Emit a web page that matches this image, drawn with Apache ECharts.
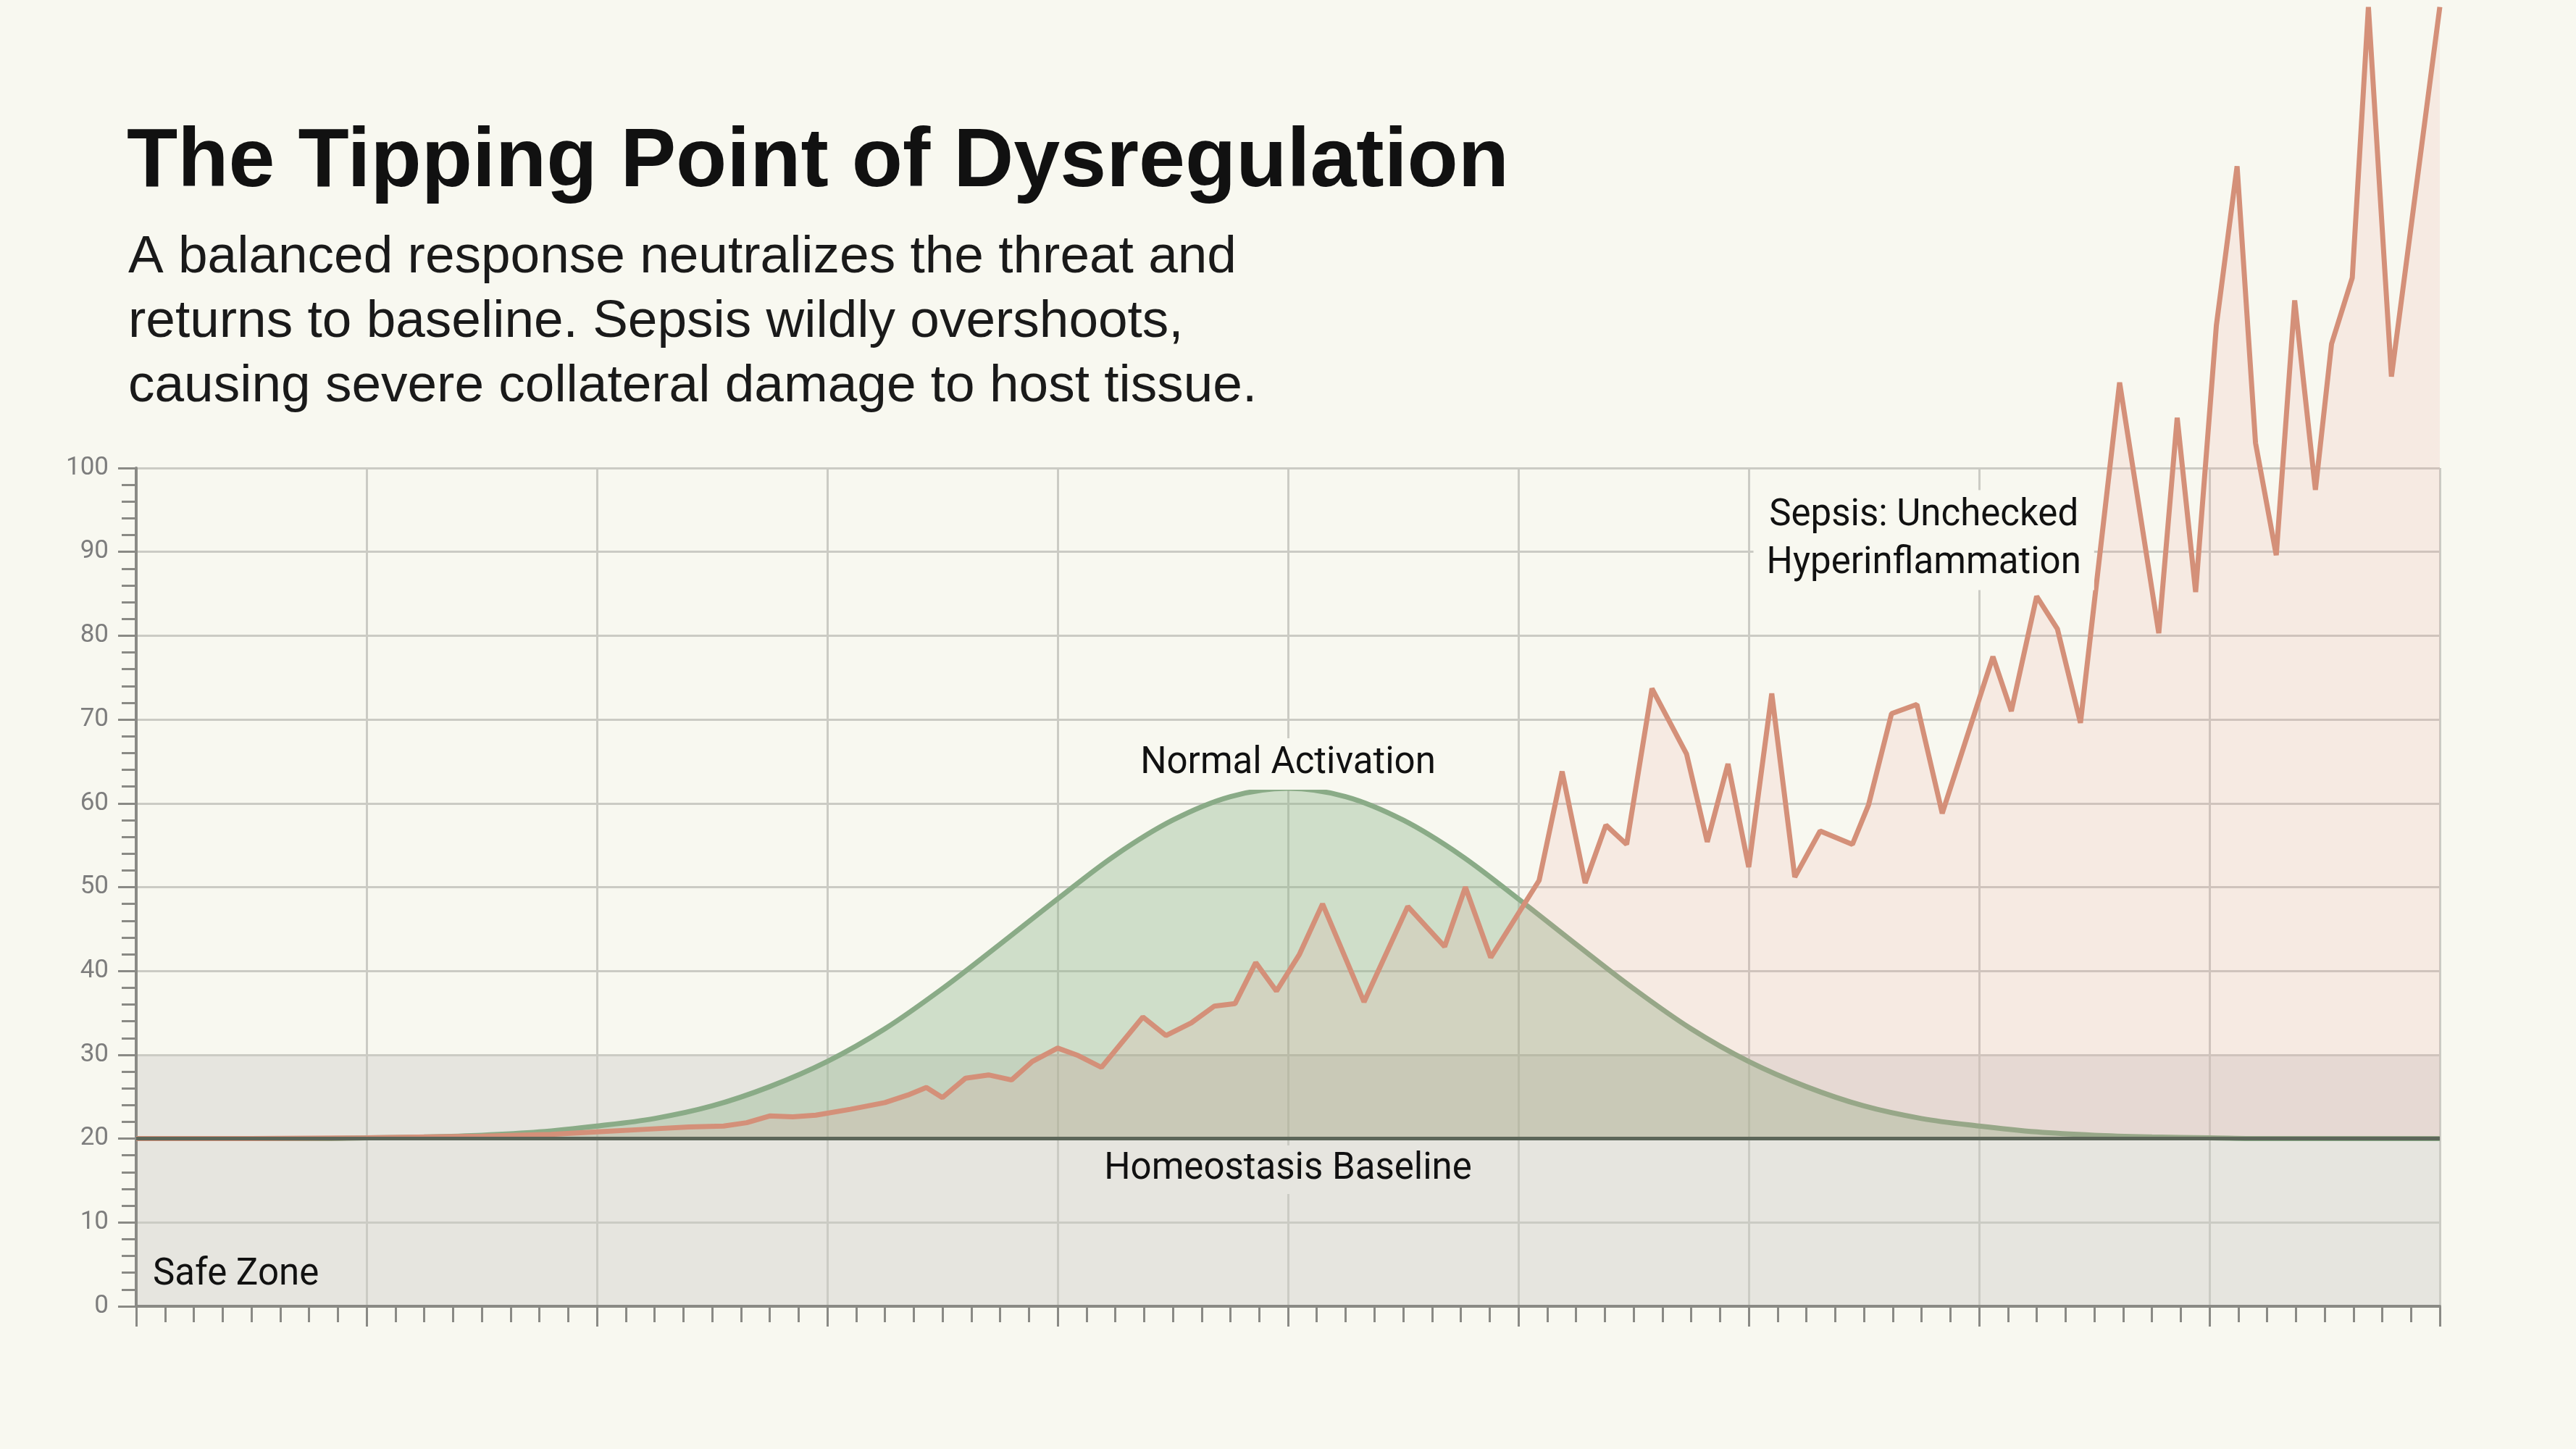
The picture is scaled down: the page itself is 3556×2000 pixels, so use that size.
<!DOCTYPE html>
<html>
<head>
<meta charset="utf-8">
<script src="https://cdn.jsdelivr.net/npm/echarts/dist/echarts.min.js"></script>
<style>
  html, body { margin: 0; padding: 0; background: #f8f8f0; }
  #chart { width: 3556px; height: 2000px; }
</style>
</head>
<body>
<div id="chart"></div>
<script>
// normal (balanced) response
const normalX = [0, 2.5, 5, 7.5, 10, 12.5, 15, 17.5, 20, 22.5, 25, 27.5, 30, 32.5, 35, 37.5, 40, 42.5, 45, 47.5,
  50, 52.5, 55, 57.5, 60, 62.5, 65, 67.5, 70, 72.5, 75, 77.5, 80, 82.5, 85, 87.5, 90, 92.5, 95, 97.5, 100];
const normalY = [20.0, 20.0, 20.0, 20.0, 20.1, 20.2, 20.4, 20.8, 21.5, 22.4, 23.9, 26.2, 29.2, 33.1, 37.9, 43.2, 48.6, 53.8, 58.0, 60.8,
  61.8, 60.8, 58.0, 53.8, 48.6, 43.2, 37.9, 33.1, 29.2, 26.2, 23.9, 22.4, 21.5, 20.8, 20.4, 20.2, 20.1, 20.0, 20.0, 20.0, 20.0];

// sepsis response, vertices of the jagged red line
const sepsisX = [0, 5, 10, 15, 18, 20, 22, 24, 25.5, 26.5, 27.5, 28.5, 29.5, 31, 32.5, 33.5, 34.3, 35, 36, 37,
  38, 38.9, 40, 40.9, 41.9, 43.7, 44.7, 45.8, 46.8, 47.7, 48.6, 49.5, 50.5, 51.5, 53.3, 55.2, 56.8, 57.7, 58.8, 60.9,
  61.9, 62.9, 63.8, 64.7, 65.8, 67.3, 68.2, 69.1, 70, 71, 72, 73.1, 74.5, 75.2, 76.2, 77.3, 78.4, 80.6, 81.4, 82.5,
  83.4, 84.4, 86.1, 87.8, 88.6, 89.4, 90.3, 91.2, 92, 92.9, 93.7, 94.6, 95.3, 96.2, 96.9, 97.9, 100];
const sepsisY = [20, 20, 20.1, 20.3, 20.5, 20.8, 21.1, 21.4, 21.5, 21.9, 22.7, 22.6, 22.8, 23.5, 24.3, 25.2, 26.1, 24.9, 27.2, 27.6,
  27.0, 29.2, 30.8, 29.9, 28.5, 34.5, 32.3, 33.8, 35.8, 36.1, 41.0, 37.6, 42.0, 48.0, 36.3, 47.7, 42.9, 50.0, 41.6, 50.8,
  63.8, 50.5, 57.4, 55.1, 73.7, 65.9, 55.4, 64.7, 52.4, 73.1, 51.2, 56.7, 55.1, 59.8, 70.7, 71.8, 58.8, 77.5, 71.0, 84.7,
  80.8, 69.6, 110.2, 80.3, 106.0, 85.2, 117.0, 136.0, 103.0, 89.6, 120.0, 97.4, 114.8, 122.7, 155.0, 110.9, 155.0];

const baseline = 20;
const safeZone = [0, 30];

const bg = '#f8f8f0';
const zoneGrey = '#e6e5df';
const axisGrey = '#8a8a85';
const gridGrey = '#cbcbc4';
const labelFont = 'Roboto';

const chart = echarts.init(document.getElementById('chart'));

const option = {
  backgroundColor: bg,
  animation: false,
  title: [
    {
      text: 'The Tipping Point of Dysregulation',
      left: 175,
      top: 155,
      padding: 0,
      textStyle: { fontFamily: 'Liberation Sans', fontWeight: 'bold', fontSize: 115, lineHeight: 140, color: '#111' }
    },
    {
      text: 'A balanced response neutralizes the threat and\nreturns to baseline. Sepsis wildly overshoots,\ncausing severe collateral damage to host tissue.',
      left: 177,
      top: 311,
      padding: 0,
      textStyle: { fontFamily: 'Liberation Sans', fontWeight: 'normal', fontSize: 73, lineHeight: 89, color: '#1a1a1a' }
    }
  ],
  grid: { left: 188, right: 188, top: 646, bottom: 197, containLabel: false },
  xAxis: {
    type: 'value',
    z: 1.5,
    min: 0,
    max: 100,
    interval: 10,
    axisLine: { show: true, onZero: false, lineStyle: { color: axisGrey, width: 4 } },
    axisTick: { show: true, length: 28, lineStyle: { color: axisGrey, width: 3 } },
    minorTick: { show: true, splitNumber: 8, length: 22, lineStyle: { color: axisGrey, width: 3 } },
    axisLabel: { show: false },
    splitLine: { show: true, lineStyle: { color: gridGrey, width: 3 } }
  },
  yAxis: {
    type: 'value',
    z: 1.5,
    min: 0,
    max: 100,
    interval: 10,
    axisLine: { show: true, lineStyle: { color: axisGrey, width: 4 } },
    axisTick: { show: true, length: 25, lineStyle: { color: axisGrey, width: 3 } },
    minorTick: { show: true, splitNumber: 5, length: 20, lineStyle: { color: axisGrey, width: 3 } },
    axisLabel: { fontFamily: labelFont, fontSize: 35, color: '#7d7d7d', margin: 38 },
    splitLine: { show: true, lineStyle: { color: gridGrey, width: 3 } }
  },
  series: [
    {
      name: 'Normal Activation',
      type: 'line',
      z: 2,
      smooth: 0.35,
      symbol: 'none',
      data: normalX.map((x, i) => [x, normalY[i]]),
      lineStyle: { color: '#8aab87', width: 7 },
      areaStyle: { color: 'rgba(138,178,134,0.52)', origin: baseline }
    },
    {
      name: 'Sepsis',
      type: 'line',
      z: 3,
      clip: false,
      symbol: 'none',
      data: sepsisX.map((x, i) => [x, sepsisY[i]]),
      lineStyle: { color: '#d49079', width: 7 },
      areaStyle: { color: 'rgba(232,150,140,0.2)', origin: baseline },
      markArea: {
        silent: true,
        z: 1,
        itemStyle: { color: zoneGrey, opacity: 1 },
        label: {
          show: true,
          position: 'insideBottomLeft',
          offset: [18, -12],
          fontFamily: labelFont,
          fontSize: 51,
          lineHeight: 51,
          color: '#111'
        },
        data: [[{ name: 'Safe Zone', yAxis: safeZone[0] }, { yAxis: safeZone[1] }]]
      },
      markLine: {
        silent: true,
        symbol: 'none',
        label: { show: false },
        lineStyle: { color: '#5c6659', width: 5, type: 'solid' },
        data: [{ yAxis: baseline }]
      },
      markPoint: {
        silent: true,
        symbol: 'circle',
        symbolSize: 0,
        label: {
          show: true,
          position: 'inside',
          fontFamily: labelFont,
          fontSize: 51,
          color: '#111'
        },
        data: [
          {
            coord: [50, 64.7],
            label: { formatter: 'Normal Activation', backgroundColor: bg, padding: [10, 12] }
          },
          {
            coord: [50, 16.3],
            label: { formatter: 'Homeostasis Baseline', backgroundColor: zoneGrey, padding: [8, 12] }
          },
          {
            coord: [77.6, 91.4],
            label: {
              formatter: 'Sepsis: Unchecked\nHyperinflammation',
              lineHeight: 66,
              align: 'center',
              backgroundColor: bg,
              padding: [3, 18]
            }
          }
        ]
      }
    }
  ]
};

chart.setOption(option);
</script>
</body>
</html>
